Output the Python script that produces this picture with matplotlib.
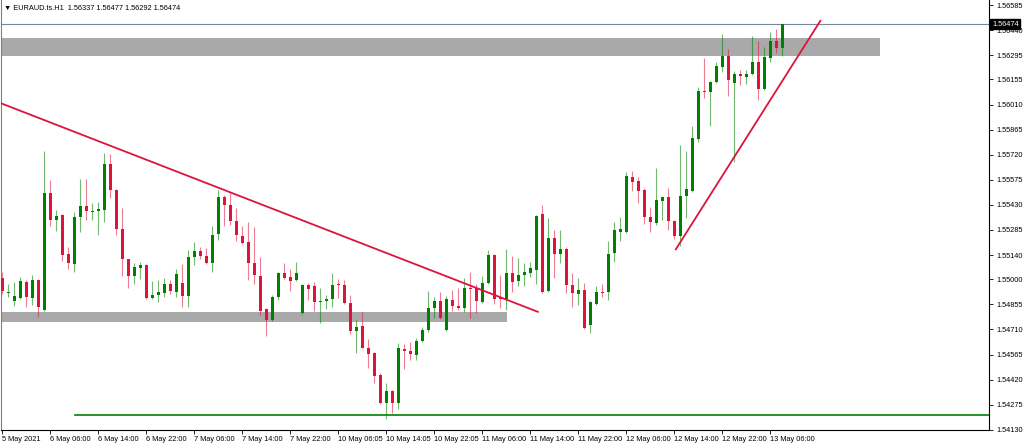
import numpy as np
import matplotlib
matplotlib.use("Agg")
import matplotlib.pyplot as plt
import matplotlib.transforms as mtransforms

plt.rcParams['font.family'] = ['Liberation Sans', 'DejaVu Sans']

# EURAUD H1 candles, 5 May 22:00 -> 13 May 08:00
opens = [1.55007, 1.54920, 1.54874, 1.54892, 1.54984, 1.54892, 1.54996, 1.54822, 1.55498, 1.55342,
         1.55371, 1.55146, 1.55088, 1.55360, 1.55423, 1.55391, 1.55394, 1.55400, 1.55666, 1.55516,
         1.55290, 1.55117, 1.55019, 1.55065, 1.55082, 1.54892, 1.54909, 1.54920, 1.54972, 1.54926,
         1.54978, 1.54903, 1.55129, 1.55163, 1.55134, 1.55094, 1.55262, 1.55475, 1.55429, 1.55337,
         1.55250, 1.55215, 1.55094, 1.55019, 1.54828, 1.54764, 1.54897, 1.55036, 1.55013, 1.54996,
         1.54805, 1.54967, 1.54961, 1.54868, 1.54874, 1.54886, 1.54972, 1.54967, 1.54863, 1.54701,
         1.54730, 1.54603, 1.54574, 1.54447, 1.54285, 1.54354, 1.54285, 1.54597, 1.54585, 1.54562,
         1.54643, 1.54707, 1.54834, 1.54874, 1.54707, 1.54880, 1.54845, 1.54834, 1.54949, 1.54949,
         1.54868, 1.54978, 1.55140, 1.54897, 1.54886, 1.55036, 1.54990, 1.55025, 1.55036, 1.55053,
         1.55377, 1.54932, 1.55238, 1.55146, 1.55175, 1.54967, 1.54915, 1.54938, 1.54736, 1.54857,
         1.54926, 1.54926, 1.55152, 1.55273, 1.55273, 1.55591, 1.55568, 1.55516, 1.55360, 1.55325,
         1.55452, 1.55475, 1.55337, 1.55250, 1.55481, 1.55510, 1.55811, 1.56088, 1.56082, 1.56140,
         1.56227, 1.56290, 1.56134, 1.56186, 1.56169, 1.56186, 1.56256, 1.56100, 1.56279, 1.56377,
         1.56337]
highs = [1.55042, 1.54972, 1.54984, 1.55013, 1.54996, 1.55025, 1.55001, 1.55741, 1.55574, 1.55400,
         1.55375, 1.55186, 1.55389, 1.55579, 1.55579, 1.55441, 1.55446, 1.55730, 1.55724, 1.55520,
         1.55412, 1.55120, 1.55094, 1.55100, 1.55086, 1.54990, 1.54996, 1.55007, 1.54996, 1.55059,
         1.55088, 1.55169, 1.55215, 1.55186, 1.55181, 1.55308, 1.55516, 1.55487, 1.55498, 1.55412,
         1.55308, 1.55331, 1.55302, 1.55129, 1.54832, 1.54909, 1.55040, 1.55094, 1.55059, 1.55100,
         1.54970, 1.54978, 1.54984, 1.54949, 1.54909, 1.55036, 1.55001, 1.54996, 1.54909, 1.54764,
         1.54811, 1.54655, 1.54578, 1.54458, 1.54400, 1.54358, 1.54632, 1.54626, 1.54637, 1.54660,
         1.54724, 1.54932, 1.54897, 1.54926, 1.54903, 1.54938, 1.54949, 1.55007, 1.55042, 1.54972,
         1.55019, 1.55169, 1.55146, 1.55025, 1.55175, 1.55134, 1.55123, 1.55094, 1.55100, 1.55371,
         1.55429, 1.55354, 1.55285, 1.55285, 1.55186, 1.55036, 1.55007, 1.54978, 1.54874, 1.54961,
         1.54972, 1.55221, 1.55331, 1.55360, 1.55620, 1.55626, 1.55591, 1.55527, 1.55418, 1.55643,
         1.55481, 1.55527, 1.55340, 1.55776, 1.55741, 1.55886, 1.56111, 1.56279, 1.56146, 1.56256,
         1.56418, 1.56331, 1.56204, 1.56209, 1.56209, 1.56406, 1.56377, 1.56342, 1.56429, 1.56446,
         1.56477]
lows = [1.54915, 1.54897, 1.54845, 1.54886, 1.54840, 1.54851, 1.54782, 1.54816, 1.55308, 1.55279,
        1.55105, 1.55059, 1.55042, 1.55273, 1.55342, 1.55342, 1.55256, 1.55331, 1.55470, 1.55256,
        1.55019, 1.54949, 1.54972, 1.55001, 1.54886, 1.54888, 1.54868, 1.54897, 1.54915, 1.54897,
        1.54840, 1.54840, 1.55082, 1.55117, 1.55088, 1.55042, 1.55227, 1.55308, 1.55314, 1.55221,
        1.55206, 1.54996, 1.54972, 1.54793, 1.54672, 1.54759, 1.54880, 1.55001, 1.54932, 1.54990,
        1.54799, 1.54880, 1.54816, 1.54747, 1.54828, 1.54840, 1.54892, 1.54857, 1.54684, 1.54574,
        1.54600, 1.54487, 1.54400, 1.54280, 1.54192, 1.54227, 1.54250, 1.54481, 1.54533, 1.54533,
        1.54637, 1.54695, 1.54776, 1.54770, 1.54701, 1.54816, 1.54822, 1.54811, 1.54776, 1.54805,
        1.54865, 1.54972, 1.54857, 1.54834, 1.54822, 1.54926, 1.54961, 1.54961, 1.55013, 1.54972,
        1.54920, 1.54926, 1.55007, 1.55094, 1.54920, 1.54840, 1.54851, 1.54715, 1.54689, 1.54851,
        1.54897, 1.54880, 1.55100, 1.55221, 1.55268, 1.55510, 1.55441, 1.55319, 1.55273, 1.55314,
        1.55342, 1.55285, 1.55233, 1.55192, 1.55354, 1.55504, 1.55793, 1.56048, 1.55886, 1.56134,
        1.56198, 1.56059, 1.55678, 1.56123, 1.56129, 1.56181, 1.56036, 1.56094, 1.56256, 1.56308,
        1.56292]
closes = [1.54932, 1.54926, 1.54903, 1.54990, 1.54897, 1.54996, 1.54840, 1.55498, 1.55342, 1.55366,
          1.55140, 1.55094, 1.55360, 1.55423, 1.55394, 1.55394, 1.55406, 1.55666, 1.55516, 1.55290,
          1.55117, 1.55019, 1.55071, 1.55082, 1.54892, 1.54909, 1.54926, 1.54972, 1.54932, 1.55030,
          1.54903, 1.55129, 1.55163, 1.55134, 1.55094, 1.55256, 1.55475, 1.55429, 1.55337, 1.55256,
          1.55210, 1.55094, 1.55025, 1.54816, 1.54764, 1.54897, 1.55036, 1.55007, 1.54990, 1.55036,
          1.54967, 1.54944, 1.54868, 1.54874, 1.54886, 1.54967, 1.54965, 1.54863, 1.54701, 1.54724,
          1.54603, 1.54568, 1.54441, 1.54285, 1.54354, 1.54285, 1.54603, 1.54585, 1.54568, 1.54643,
          1.54707, 1.54834, 1.54874, 1.54776, 1.54886, 1.54845, 1.54834, 1.54949, 1.54944, 1.54874,
          1.54978, 1.55140, 1.54886, 1.54886, 1.55036, 1.54984, 1.55025, 1.55042, 1.55065, 1.55366,
          1.54926, 1.55238, 1.55146, 1.55175, 1.54967, 1.54920, 1.54938, 1.54718, 1.54868, 1.54926,
          1.54920, 1.55146, 1.55285, 1.55290, 1.55597, 1.55562, 1.55510, 1.55360, 1.55331, 1.55458,
          1.55475, 1.55337, 1.55250, 1.55481, 1.55522, 1.55816, 1.56088, 1.56082, 1.56140, 1.56233,
          1.56290, 1.56152, 1.56186, 1.56175, 1.56186, 1.56256, 1.56100, 1.56285, 1.56377, 1.56337,
          1.56474]

time_labels = ["5 May 2021", "6 May 06:00", "6 May 14:00", "6 May 22:00", "7 May 06:00",
               "7 May 14:00", "7 May 22:00", "10 May 06:05", "10 May 14:05", "10 May 22:05",
               "11 May 06:00", "11 May 14:00", "11 May 22:00", "12 May 06:00", "12 May 14:00",
               "12 May 22:00", "13 May 06:00"]
price_ticks = [1.56585, 1.56440, 1.56295, 1.56155, 1.56010, 1.55865, 1.55720, 1.55575, 1.55430,
               1.55285, 1.55140, 1.55000, 1.54855, 1.54710, 1.54565, 1.54420, 1.54275, 1.54130]

# drawn objects: zones (bottom, top, end bar), trendlines (bar, price), support level
upper_zone = [1.56290, 1.56394, 146.3]
lower_zone = [1.54753, 1.54811, 84.2]
falling_line = [(-0.3, 1.56019), (89.3, 1.54812)]
rising_line = [(112.3, 1.55173), (136.4, 1.56494)]
support_level = 1.54218
support_start = 12.2
last_price = 1.56474
header = "\u25bc EURAUD.ts.H1  1.56337 1.56477 1.56292 1.56474"

o = np.array(opens)
h = np.array(highs)
l = np.array(lows)
c = np.array(closes)
idx = np.arange(len(o))
up = c >= o
GREEN = "#008000"
RED = "#DC143C"
cols = np.where(up, GREEN, RED)
FS = 5.3

fig = plt.figure(figsize=(10.24, 4.47), dpi=100)
ax = fig.add_axes([1 / 1024, 17 / 447, 988 / 1024, 430 / 447])
ax.set_xlim(-1 / 6, 164.5)
ax.set_ylim(1.54129, 1.56614)

# zones
ax.fill_between([-1, upper_zone[2]], upper_zone[0], upper_zone[1], color="#A9A9A9", lw=0, zorder=0)
ax.fill_between([-1, lower_zone[2]], lower_zone[0], lower_zone[1], color="#A9A9A9", lw=0, zorder=0)

# candles
ax.vlines(idx, l, h, colors=cols, lw=0.8, alpha=0.55, zorder=2)
body = np.maximum(np.abs(c - o), 0.00004)
ax.bar(idx, body, bottom=np.minimum(o, c), width=0.5, color=cols, lw=0, zorder=3)

# lines
ax.plot(*zip(*falling_line), color=RED, lw=1.3, zorder=4)
ax.plot(*zip(*rising_line), color=RED, lw=1.3, zorder=4, clip_on=False)
ax.plot([support_start, 170], [support_level, support_level], color=GREEN, lw=1.2, zorder=4)
ax.axhline(last_price, color="#778899", lw=0.8, zorder=1)

# axes look
ax.spines["top"].set_visible(False)
ax.spines["left"].set_color("#808080")
ax.spines["right"].set_linewidth(0.8)
ax.spines["bottom"].set_linewidth(0.8)
ax.yaxis.tick_right()
ax.set_yticks(price_ticks)
ax.set_yticklabels([f"{p:.5f}" for p in price_ticks])
ax.tick_params(axis="y", length=3, width=0.6, pad=2, labelsize=FS)
ax.set_xticks(np.arange(len(time_labels)) * 8)
ax.set_xticklabels(time_labels)
ax.tick_params(axis="x", length=3, width=0.6, pad=1, labelsize=FS)
for t in ax.get_xticklabels():
    t.set_horizontalalignment("left")

trans = mtransforms.blended_transform_factory(ax.transAxes, ax.transData)
ax.text(1.003, last_price, f"{last_price:.5f}", transform=trans, ha="left", va="center",
        color="white", fontsize=FS, clip_on=False, zorder=10,
        bbox=dict(boxstyle="square,pad=0.2", fc="black", ec="black"))

fig.text(4 / 1024, 1 - 8 / 447, header, fontsize=FS, va="center", ha="left")

fig.savefig("out.png", dpi=100)
